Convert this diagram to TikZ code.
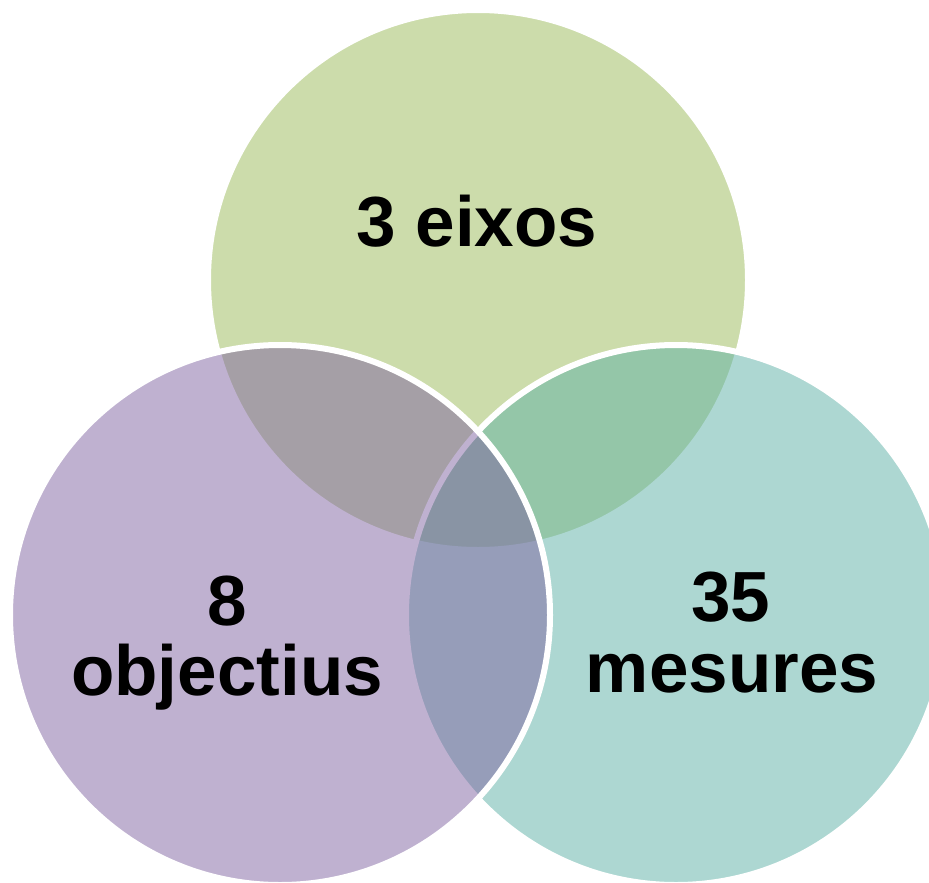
\documentclass[tikz,border=0pt]{standalone}
\usepackage{fontspec}
\setmainfont{Liberation Sans}
\begin{document}
\begin{tikzpicture}[x=1pt,y=-1pt,
  venn/.style={draw=white,line width=6pt,fill opacity=0.5},
  lbl/.style={anchor=base,inner sep=0pt,text=black,font=\fontsize{71}{71}\selectfont\bfseries}]
\useasboundingbox (0,0) rectangle (929,883);
\fill[white] (0,0) rectangle (929,883);
\clip (0,0) rectangle (929,883);
\definecolor{vgreen}{HTML}{9BBB59}
\definecolor{vteal}{HTML}{5DB1A7}
\definecolor{vpurple}{HTML}{8064A2}
\draw[venn,fill=vgreen] (478,280) circle[radius=270];
\draw[venn,fill=vteal] (676,615) circle[radius=270];
\draw[venn,fill=vpurple] (280,615) circle[radius=270];
\node[lbl] (eix) at (477,246) {3 eixos};
\node[lbl] (obj1) at (227,625) {8};
\node[lbl] (obj2) at (227,695) {objectius};
\node[lbl] (mes1) at (731,621) {35};
\node[lbl] (mes2) at (732,692) {mesures};
\end{tikzpicture}
\end{document}
